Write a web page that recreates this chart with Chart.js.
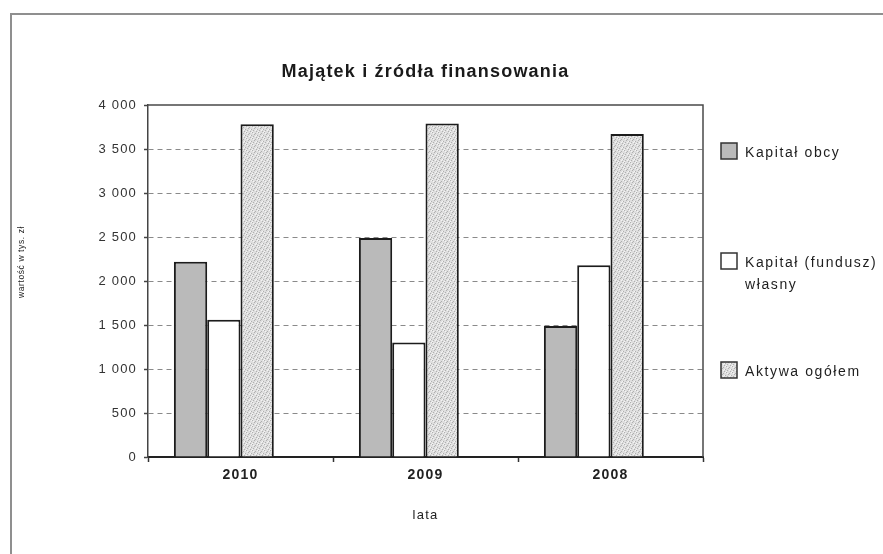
<!DOCTYPE html>
<html lang="pl">
<head>
<meta charset="utf-8">
<title>Majątek i źródła finansowania</title>
<script src="https://cdn.jsdelivr.net/npm/chart.js@4/dist/chart.umd.min.js"></script>
<style>
  html, body { margin: 0; padding: 0; background: #fff; }
  #wrap { width: 883px; height: 554px; }
</style>
</head>
<body>
<div id="wrap"><canvas id="chart" width="883" height="554"></canvas></div>
<script>
// dane (tys. zł)
const lata = ['2010', '2009', '2008'];
const kapitalObcy = [2220, 2490, 1490];
const kapitalWlasny = [1560, 1300, 2180];
const aktywaOgolem = [3780, 3790, 3670];
const opisyLegendy = [['Kapitał obcy'], ['Kapitał (fundusz)', 'własny'], ['Aktywa ogółem']];
const osY = { min: 0, max: 4000, krok: 500 };

const canvas = document.getElementById('chart');
const ctx = canvas.getContext('2d');

// drobno nakrapiany wzór dla słupków "Aktywa ogółem"
function wzorKropki() {
  const c = document.createElement('canvas');
  c.width = 6; c.height = 6;
  const g = c.getContext('2d');
  g.fillStyle = '#dedede';
  g.fillRect(0, 0, 6, 6);
  g.fillStyle = '#b0b0b0';
  [[0, 0], [3, 1], [5, 3], [1, 4], [4, 5], [2, 2]].forEach(([x, y]) => g.fillRect(x, y, 1, 1));
  g.fillStyle = '#f4f4f4';
  [[1, 1], [4, 3], [0, 5], [3, 4], [5, 0]].forEach(([x, y]) => g.fillRect(x, y, 1, 1));
  return ctx.createPattern(c, 'repeat');
}

const kropki = wzorKropki();
const obrys = '#1c1c1c';

// "4000" -> "4 000"
function tysiace(v) {
  return String(v).replace(/\B(?=(\d{3})+(?!\d))/g, ' ');
}

const ramka = {
  id: 'ramka',
  beforeDraw(chart) {
    const c = chart.ctx;
    c.save();
    c.fillStyle = '#ffffff';
    c.fillRect(0, 0, chart.width, chart.height);
    c.strokeStyle = '#8f8f8f';
    c.lineWidth = 2;
    c.strokeRect(11, 14, chart.width + 20, chart.height + 20);
    c.restore();
    c.letterSpacing = '1.2px';
  },
  afterDraw(chart) {
    const c = chart.ctx;
    const a = chart.chartArea;
    c.save();
    // górna i prawa krawędź obszaru wykresu
    c.strokeStyle = '#4a4a4a';
    c.lineWidth = 1.5;
    c.beginPath();
    c.moveTo(a.left, a.top);
    c.lineTo(a.right, a.top);
    c.lineTo(a.right, a.bottom);
    c.stroke();

    // opis osi Y
    c.save();
    c.translate(22, 262);
    c.rotate(-Math.PI / 2);
    c.letterSpacing = '0.6px';
    c.font = "8.5px 'Liberation Sans', Arial, sans-serif";
    c.fillStyle = '#222';
    c.textAlign = 'center';
    c.textBaseline = 'middle';
    c.fillText('wartość w tys. zł', 0, 0);
    c.restore();

    // legenda
    const srodki = [151, 261, 370];
    c.letterSpacing = '1.6px';
    c.font = "14px 'Liberation Sans', Arial, sans-serif";
    c.textBaseline = 'middle';
    c.textAlign = 'left';
    chart.data.datasets.filter(d => !d.pomocnicza).forEach((d, i) => {
      const y = srodki[i];
      c.fillStyle = d.backgroundColor;
      c.fillRect(721, y - 8, 16, 16);
      c.strokeStyle = '#333';
      c.lineWidth = 1.5;
      c.strokeRect(721, y - 8, 16, 16);
      c.fillStyle = '#1e1e1e';
      d.opis.forEach((linia, j) => c.fillText(linia, 745, y + 2 + j * 22));
    });
    c.restore();
    c.letterSpacing = '0px';
  }
};

new Chart(ctx, {
  type: 'bar',
  data: {
    labels: lata,
    datasets: [
      {
        label: 'Kapitał obcy',
        opis: opisyLegendy[0],
        data: kapitalObcy,
        backgroundColor: '#bababa',
        borderColor: obrys,
        borderWidth: 2
      },
      {
        label: 'Kapitał (fundusz) własny',
        opis: opisyLegendy[1],
        data: kapitalWlasny,
        backgroundColor: '#ffffff',
        borderColor: obrys,
        borderWidth: 2
      },
      {
        label: 'Aktywa ogółem',
        opis: opisyLegendy[2],
        data: aktywaOgolem,
        backgroundColor: kropki,
        borderColor: obrys,
        borderWidth: 2
      },
      {
        // pusta seria zajmująca miejsce w grupie
        label: '',
        pomocnicza: true,
        data: lata.map(() => null)
      }
    ]
  },
  options: {
    responsive: false,
    animation: false,
    categoryPercentage: 0.72,
    barPercentage: 1.0,
    layout: { padding: { left: 0, right: 180, top: 35, bottom: 0 } },
    plugins: {
      legend: { display: false },
      tooltip: { enabled: false },
      title: {
        display: true,
        fullSize: false,
        text: 'Majątek i źródła finansowania',
        color: '#1a1a1a',
        font: { family: "'Liberation Sans', Arial, sans-serif", size: 18, weight: 'bold' },
        padding: { top: 26, bottom: 22.4 }
      }
    },
    scales: {
      x: {
        afterFit(scale) { scale.height = 97; },
        grid: {
          drawOnChartArea: false,
          drawTicks: true,
          tickLength: 5,
          tickColor: '#333',
          tickWidth: 1.5
        },
        border: { color: '#222', width: 2 },
        ticks: {
          color: '#222',
          padding: 5,
          font: { family: "'Liberation Sans', Arial, sans-serif", size: 14, weight: 'bold' }
        },
        title: {
          display: true,
          text: 'lata',
          color: '#222',
          font: { family: "'Liberation Sans', Arial, sans-serif", size: 13 },
          padding: { top: 0, bottom: 31 }
        }
      },
      y: {
        min: osY.min,
        max: osY.max,
        afterFit(scale) { scale.width = 148; },
        grid: {
          color: ctx => (ctx.tick && (ctx.tick.value === osY.min || ctx.tick.value === osY.max)) ? 'rgba(0,0,0,0)' : '#8a8a8a',
          lineWidth: 1,
          drawTicks: true,
          tickLength: 4,
          tickColor: '#444',
          tickWidth: 1.5
        },
        border: { color: '#444', width: 1.5, dash: [5, 4] },
        ticks: {
          stepSize: osY.krok,
          color: '#333',
          padding: 7,
          font: { family: "'Liberation Sans', Arial, sans-serif", size: 13 },
          callback: v => tysiace(v)
        }
      }
    }
  },
  plugins: [ramka]
});
</script>
</body>
</html>
